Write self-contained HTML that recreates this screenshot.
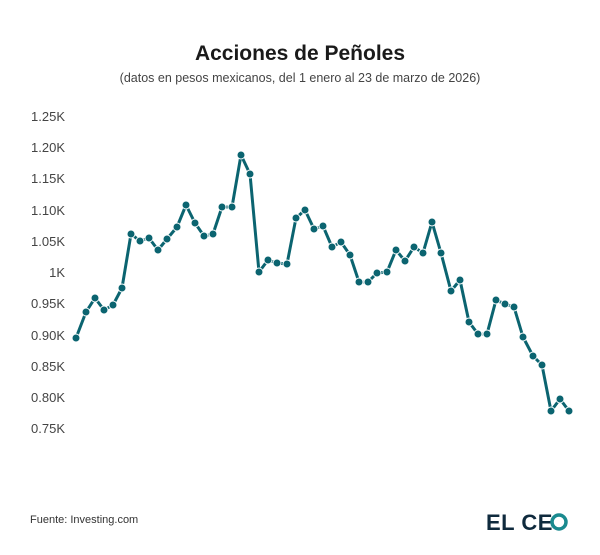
<!DOCTYPE html>
<html><head><meta charset="utf-8"><style>
body{margin:0;background:#fff;width:600px;height:550px;overflow:hidden;font-family:"Liberation Sans",sans-serif}
</style></head><body>
<svg width="600" height="550" xmlns="http://www.w3.org/2000/svg" font-family="Liberation Sans, sans-serif">
<text x="300" y="60" text-anchor="middle" font-size="21" font-weight="bold" fill="#1a1a1a">Acciones de Peñoles</text>
<text x="300" y="82" text-anchor="middle" font-size="12.5" fill="#444">(datos en pesos mexicanos, del 1 enero al 23 de marzo de 2026)</text>
<g font-size="13" fill="#444" text-anchor="end">
<text x="65" y="121">1.25K</text><text x="65" y="152">1.20K</text><text x="65" y="183">1.15K</text>
<text x="65" y="215">1.10K</text><text x="65" y="246">1.05K</text><text x="65" y="277">1K</text>
<text x="65" y="308">0.95K</text><text x="65" y="340">0.90K</text><text x="65" y="371">0.85K</text>
<text x="65" y="402">0.80K</text><text x="65" y="433">0.75K</text>
</g>
<polyline id="l" fill="none" stroke="#0b6470" stroke-width="3" stroke-linejoin="round" points="76,338 86,312 95,298 104,310 113,305 122,288 131,234 140,241 149,238 158,250 167,239 177,227 186,205 195,223 204,236 213,234 222,207 232,207 241,155 250,174 259,272 268,260 277,263 287,264 296,218 305,210 314,229 323,226 332,247 341,242 350,255 359,282 368,282 377,273 387,272 396,250 405,261 414,247 423,253 432,222 441,253 451,291 460,280 469,322 478,334 487,334 496,300 505,304 514,307 523,337 533,356 542,365 551,411 560,399 569,411"/>
<g fill="#0b6470" stroke="#fff" stroke-width="1">
<circle cx="76" cy="338" r="4"/><circle cx="86" cy="312" r="4"/><circle cx="95" cy="298" r="4"/><circle cx="104" cy="310" r="4"/><circle cx="113" cy="305" r="4"/><circle cx="122" cy="288" r="4"/><circle cx="131" cy="234" r="4"/><circle cx="140" cy="241" r="4"/><circle cx="149" cy="238" r="4"/><circle cx="158" cy="250" r="4"/><circle cx="167" cy="239" r="4"/><circle cx="177" cy="227" r="4"/><circle cx="186" cy="205" r="4"/><circle cx="195" cy="223" r="4"/><circle cx="204" cy="236" r="4"/><circle cx="213" cy="234" r="4"/><circle cx="222" cy="207" r="4"/><circle cx="232" cy="207" r="4"/><circle cx="241" cy="155" r="4"/><circle cx="250" cy="174" r="4"/><circle cx="259" cy="272" r="4"/><circle cx="268" cy="260" r="4"/><circle cx="277" cy="263" r="4"/><circle cx="287" cy="264" r="4"/><circle cx="296" cy="218" r="4"/><circle cx="305" cy="210" r="4"/><circle cx="314" cy="229" r="4"/><circle cx="323" cy="226" r="4"/><circle cx="332" cy="247" r="4"/><circle cx="341" cy="242" r="4"/><circle cx="350" cy="255" r="4"/><circle cx="359" cy="282" r="4"/><circle cx="368" cy="282" r="4"/><circle cx="377" cy="273" r="4"/><circle cx="387" cy="272" r="4"/><circle cx="396" cy="250" r="4"/><circle cx="405" cy="261" r="4"/><circle cx="414" cy="247" r="4"/><circle cx="423" cy="253" r="4"/><circle cx="432" cy="222" r="4"/><circle cx="441" cy="253" r="4"/><circle cx="451" cy="291" r="4"/><circle cx="460" cy="280" r="4"/><circle cx="469" cy="322" r="4"/><circle cx="478" cy="334" r="4"/><circle cx="487" cy="334" r="4"/><circle cx="496" cy="300" r="4"/><circle cx="505" cy="304" r="4"/><circle cx="514" cy="307" r="4"/><circle cx="523" cy="337" r="4"/><circle cx="533" cy="356" r="4"/><circle cx="542" cy="365" r="4"/><circle cx="551" cy="411" r="4"/><circle cx="560" cy="399" r="4"/><circle cx="569" cy="411" r="4"/>
</g>
<text x="30" y="523" font-size="11" fill="#333">Fuente: Investing.com</text>
<text x="486" y="530" font-size="22" font-weight="bold" fill="#0f2a3d" letter-spacing="0.5">EL CE</text>
<circle cx="559" cy="522" r="7" fill="none" stroke="#1a8a8f" stroke-width="3.5"/>
</svg>
</body></html>
